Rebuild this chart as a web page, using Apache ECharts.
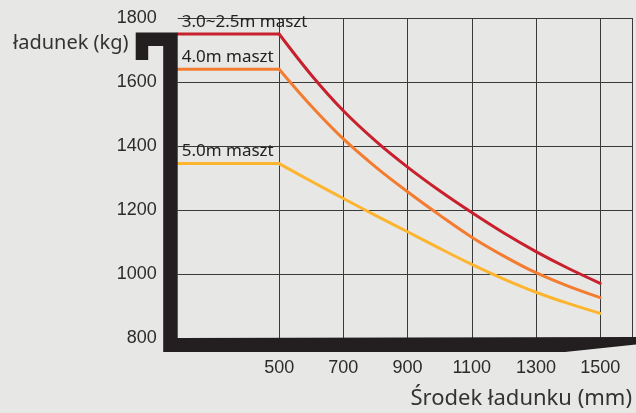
<!DOCTYPE html>
<html><head><meta charset="utf-8">
<script src="https://cdn.jsdelivr.net/npm/echarts@6/dist/echarts.min.js"></script>
<style>html,body{margin:0;padding:0;background:#e7e8e6}#c{width:636px;height:413px}</style>
</head><body><div id="c"></div>
<script>
var xStart = 184;
var xEnd = 1600;
var xTicks = [500, 700, 900, 1100, 1300, 1500];
var loadCentres = [500, 600, 700, 800, 900, 1000, 1100, 1200, 1300, 1400, 1500];
var mast30 = [1750, 1622, 1510, 1416, 1334, 1260, 1192, 1128, 1070, 1018, 971];
var mast40 = [1640, 1525, 1422, 1335, 1257, 1184, 1115, 1056, 1004, 962, 926];
var mast50 = [1345, 1290, 1236, 1183, 1132, 1080, 1030, 984, 943, 908, 877];
var seriesNames = ['3.0~2.5m maszt', '4.0m maszt', '5.0m maszt'];
var seriesColors = ['#c8202c', '#f47c30', '#fdb52f'];
var yName = 'ładunek (kg)';
var xName = 'Środek ładunku (mm)';

var series = [];
[mast30, mast40, mast50].forEach(function (vals, i) {
  var curve = loadCentres.map(function (x, k) { return [x, vals[k]]; });
  // flat part (constant capacity up to the first load centre)
  series.push({
    type: 'line', name: seriesNames[i], data: [[xStart, vals[0]], [loadCentres[0], vals[0]]],
    showSymbol: false, symbol: 'none', z: 5,
    lineStyle: { color: seriesColors[i], width: 3, cap: 'round' },
    markPoint: {
      symbol: 'circle', symbolSize: 0, animation: false,
      data: [{ coord: [xStart, vals[0]], value: seriesNames[i] }],
      label: { show: true, position: 'right', distance: 4, offset: [0, -12],
        formatter: seriesNames[i], color: '#222', fontSize: 17,
        fontFamily: 'Noto Sans' }
    }
  });
  // decreasing part
  series.push({
    type: 'line', name: seriesNames[i], data: curve,
    showSymbol: false, symbol: 'none', smooth: 0.35, z: 5,
    lineStyle: { color: seriesColors[i], width: 3, cap: 'round' }
  });
});

var labelFont = '"Liberation Sans Narrow", "Liberation Sans"';
var chart = echarts.init(document.getElementById('c'), null, { renderer: 'canvas' });
chart.setOption({
  backgroundColor: '#e7e8e6',
  animation: false,
  grid: { left: 177.7, right: 3.7, top: 18, bottom: 75 },
  xAxis: {
    type: 'value', min: xStart, max: xEnd,
    axisLine: { show: false },
    axisTick: { show: false, customValues: xTicks.concat([xEnd]) },
    axisLabel: { customValues: xTicks, margin: 21, color: '#2b2b2b', fontSize: 18,
      fontFamily: labelFont,
      formatter: function (v) { return String(v); } },
    splitLine: { show: true, lineStyle: { color: '#3a3a3a', width: 1 } }
  },
  yAxis: {
    type: 'value', min: 800, max: 1800, interval: 200,
    axisLine: { show: false }, axisTick: { show: false },
    axisLabel: { margin: 21, color: '#2b2b2b', fontSize: 18,
      fontFamily: labelFont,
      formatter: function (v) { return String(v); } },
    splitLine: { show: true, lineStyle: { color: '#3a3a3a', width: 1 } }
  },
  series: series
});

var L = chart.convertToPixel({ xAxisIndex: 0 }, xStart);
var T = chart.convertToPixel({ yAxisIndex: 0 }, 1800);
var B = chart.convertToPixel({ yAxisIndex: 0 }, 800);
var W = 636;
chart.setOption({
  graphic: [
    { type: 'polygon', z: 10, silent: true,
      shape: { points: [
        [L - 42, T + 14.5], [L, T + 14.5], [L, B], [W, B - 1], [W, B + 6.5],
        [565, B + 14], [L - 14.5, B + 14], [L - 14.5, T + 28], [L - 29.5, T + 28],
        [L - 29.5, T + 42], [L - 42, T + 42]
      ] },
      style: { fill: '#231f20' } },
    { type: 'text', z: 10, left: 13, top: 33,
      style: { text: yName, font: '20px "Noto Sans"', fill: '#333' } },
    { type: 'text', z: 10, right: 4, top: 388,
      style: { text: xName, font: '22px "Noto Sans"', fill: '#333' } }
  ]
});
</script></body></html>
